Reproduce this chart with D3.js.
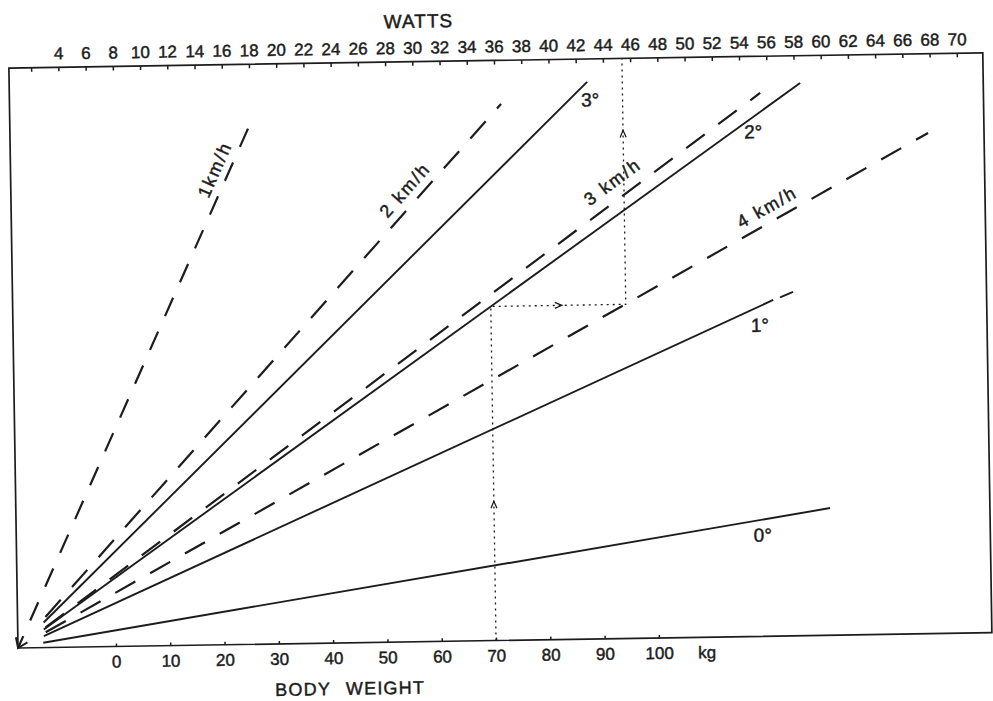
<!DOCTYPE html>
<html>
<head>
<meta charset="utf-8">
<script src="https://cdn.jsdelivr.net/npm/d3@7"></script>
<style>
  body { margin: 0; background: #fff; }
  text { font-family: "Liberation Sans", Arial, sans-serif; fill: #1c1c1c; stroke: #1c1c1c; stroke-width: 0.45px; }
</style>
</head>
<body>
<script>
'use strict';

// axis ticks
var wattTicks = d3.range(2, 71, 2);
var weightTicks = [0, 10, 20, 30, 40, 50, 60, 70, 80, 90, 100];

// speed lines (dashed): start / end as [watts, relative height %]
var speeds = ['1km/h', '2 km/h', '3 km/h', '4 km/h'];
var speedStartW = [0.37, 2.42, 2.42, 2.42];
var speedStartH = [0, 5.27, 3.49, 2.63];
var speedEndW = [18.32, 36.47, 55.51, 67.80];
var speedEndH = [91.26, 92.48, 93.67, 86.33];

// grade lines (solid)
var grades = ['0°', '1°', '2°', '3°'];
var gradeStartW = [2.23, 2.28, 2.28, 2.28];
var gradeStartH = [0.84, 1.98, 3.13, 4.32];
var gradeEndW = [60.17, 56.23, 58.46, 42.82];
var gradeEndH = [21.93, 57.95, 95.29, 96.05];

// short dash at the end of the 1° line
var tailW = [56.74, 57.70];
var tailH = [58.4, 59.3];

// worked example: 70 kg -> 2° -> 4 km/h -> watts
var exampleWeight = 70;
var exampleHeight = 57.6;
var exampleWatts = 45.4;

var width = 993;
var height = 701;
var W = 974;
var H = 580;

var svg = d3.select('body').append('svg').attr('width', width).attr('height', height);
svg.append('rect').attr('width', width).attr('height', height).attr('fill', '#fff');

// the scan is slightly tilted
var g = svg.append('g').attr('transform', 'translate(18,648) rotate(-0.9)');

var x = d3.scaleLinear().domain([0, 70]).range([-5, 948]);
var xKg = d3.scaleLinear().domain([0, 100]).range([98, 641]);
var y = d3.scaleLinear().domain([0, 100]).range([0, -H]);

var ink = '#1c1c1c';

// frame
g.append('path')
  .attr('d', 'M0,0V' + (-H) + 'H' + W + 'V0Z')
  .attr('fill', 'none').attr('stroke', ink).attr('stroke-width', 1.7);

// top axis: watts
var topAxis = d3.axisTop(x).tickValues(wattTicks).tickSizeInner(-4).tickSizeOuter(0).tickPadding(8)
  .tickFormat(function (d) { return d === 2 ? '' : d; });
var ta = g.append('g').attr('transform', 'translate(0,' + y(100) + ')').call(topAxis);
ta.select('.domain').remove();
ta.attr('font-size', 17).attr('font-family', null).style('color', ink);
ta.selectAll('line').attr('stroke-width', 1.5);

// bottom axis: body weight
var bottomAxis = d3.axisBottom(xKg).tickValues(weightTicks).tickSizeInner(-3).tickSizeOuter(0).tickPadding(9);
var ba = g.append('g').call(bottomAxis);
ba.select('.domain').remove();
ba.attr('font-size', 17).attr('font-family', null).style('color', ink);
ba.selectAll('line').attr('stroke-width', 1.5);

g.append('text').attr('x', xKg(100) + 48).attr('y', 21).attr('text-anchor', 'middle')
  .attr('font-size', 17).text('kg');

g.append('text').attr('x', xKg(43)).attr('y', 52).attr('text-anchor', 'middle')
  .attr('font-size', 18).attr('letter-spacing', 1.2).attr('word-spacing', 9).text('BODY WEIGHT');

g.append('text').attr('x', x(30.5)).attr('y', y(100) - 34).attr('text-anchor', 'middle')
  .attr('font-size', 19).attr('letter-spacing', 1).text('WATTS');

var line = d3.line().x(function (d) { return x(d[0]); }).y(function (d) { return y(d[1]); });

var speedData = speeds.map(function (s, i) {
  return { name: s, pts: [[speedStartW[i], speedStartH[i]], [speedEndW[i], speedEndH[i]]] };
});
var gradeData = grades.map(function (s, i) {
  return { name: s, pts: [[gradeStartW[i], gradeStartH[i]], [gradeEndW[i], gradeEndH[i]]] };
});

g.selectAll('.grade').data(gradeData).enter().append('path')
  .attr('class', 'grade')
  .attr('d', function (d) { return line(d.pts); })
  .attr('fill', 'none').attr('stroke', ink).attr('stroke-width', 1.9);

g.append('path')
  .attr('d', line([[tailW[0], tailH[0]], [tailW[1], tailH[1]]]))
  .attr('fill', 'none').attr('stroke', ink).attr('stroke-width', 1.9);

g.selectAll('.speed').data(speedData).enter().append('path')
  .attr('class', 'speed')
  .attr('d', function (d) { return line(d.pts); })
  .attr('fill', 'none').attr('stroke', ink).attr('stroke-width', 2.2)
  .attr('stroke-dasharray', function (d, i) { return i === 0 ? '20,17' : '23,17'; })
  .attr('stroke-dashoffset', function (d, i) { return i === 0 ? 7 : 0; });

// arrow at the common origin
(function () {
  var e = speedData[0].pts[1];
  var a = Math.atan2(y(e[1]), x(e[0]));
  var L = 11, spread = 35 * Math.PI / 180;
  var p1 = [L * Math.cos(a - spread), L * Math.sin(a - spread)];
  var p2 = [L * Math.cos(a + spread), L * Math.sin(a + spread)];
  g.append('path')
    .attr('d', 'M' + p1 + 'L0,0L' + p2)
    .attr('fill', 'none').attr('stroke', ink).attr('stroke-width', 1.9);
})();

// labels placed along the rays from the origin
var speedLabelT = [0.887, 0.824, 0.815, 0.831];
var speedLabelOff = [14, 15, 17.5, 15];
var gradeLabelT = [0.914, 0.973, 0.931, 0.987];
var gradeLabelOff = [-15.2, -17.3, -12.1, -14.9];

function placeLabel(d, t, off) {
  var ex = x(d.pts[1][0]), ey = y(d.pts[1][1]);
  var len = Math.sqrt(ex * ex + ey * ey);
  var ux = ex / len, uy = ey / len;
  return { x: t * ex + off * uy, y: t * ey - off * ux, angle: Math.atan2(uy, ux) * 180 / Math.PI };
}

g.selectAll('.speed-label').data(speedData).enter().append('text')
  .attr('class', 'speed-label')
  .attr('transform', function (d, i) {
    var p = placeLabel(d, speedLabelT[i], speedLabelOff[i]);
    return 'translate(' + p.x + ',' + p.y + ') rotate(' + p.angle + ')';
  })
  .attr('text-anchor', 'middle').attr('dy', '0.35em')
  .attr('font-size', 18).attr('letter-spacing', 2)
  .text(function (d) { return d.name; });

g.selectAll('.grade-label').data(gradeData).enter().append('text')
  .attr('class', 'grade-label')
  .attr('x', function (d, i) { return placeLabel(d, gradeLabelT[i], gradeLabelOff[i]).x; })
  .attr('y', function (d, i) { return placeLabel(d, gradeLabelT[i], gradeLabelOff[i]).y; })
  .attr('text-anchor', 'middle').attr('dy', '0.35em')
  .attr('font-size', 19)
  .text(function (d) { return d.name; });

// dotted reading path
var ex0 = xKg(exampleWeight), ey0 = y(exampleHeight), ex1 = x(exampleWatts);
g.append('path')
  .attr('d', 'M' + ex0 + ',' + y(0) + 'V' + ey0 + 'H' + ex1 + 'V' + y(100))
  .attr('fill', 'none').attr('stroke', ink).attr('stroke-width', 1.3).attr('stroke-dasharray', '2,4');

function upArrow(px, py) {
  return 'M' + (px - 3) + ',' + (py + 7) + 'L' + px + ',' + py + 'L' + (px + 3) + ',' + (py + 7);
}
function rightArrow(px, py) {
  return 'M' + (px - 7) + ',' + (py - 3) + 'L' + px + ',' + py + 'L' + (px - 7) + ',' + (py + 3);
}
g.append('path').attr('d', upArrow(ex0, y(24)) + upArrow(ex1, y(87.6)) + rightArrow(x(40.7), ey0))
  .attr('fill', 'none').attr('stroke', ink).attr('stroke-width', 1.3);
</script>
</body>
</html>
